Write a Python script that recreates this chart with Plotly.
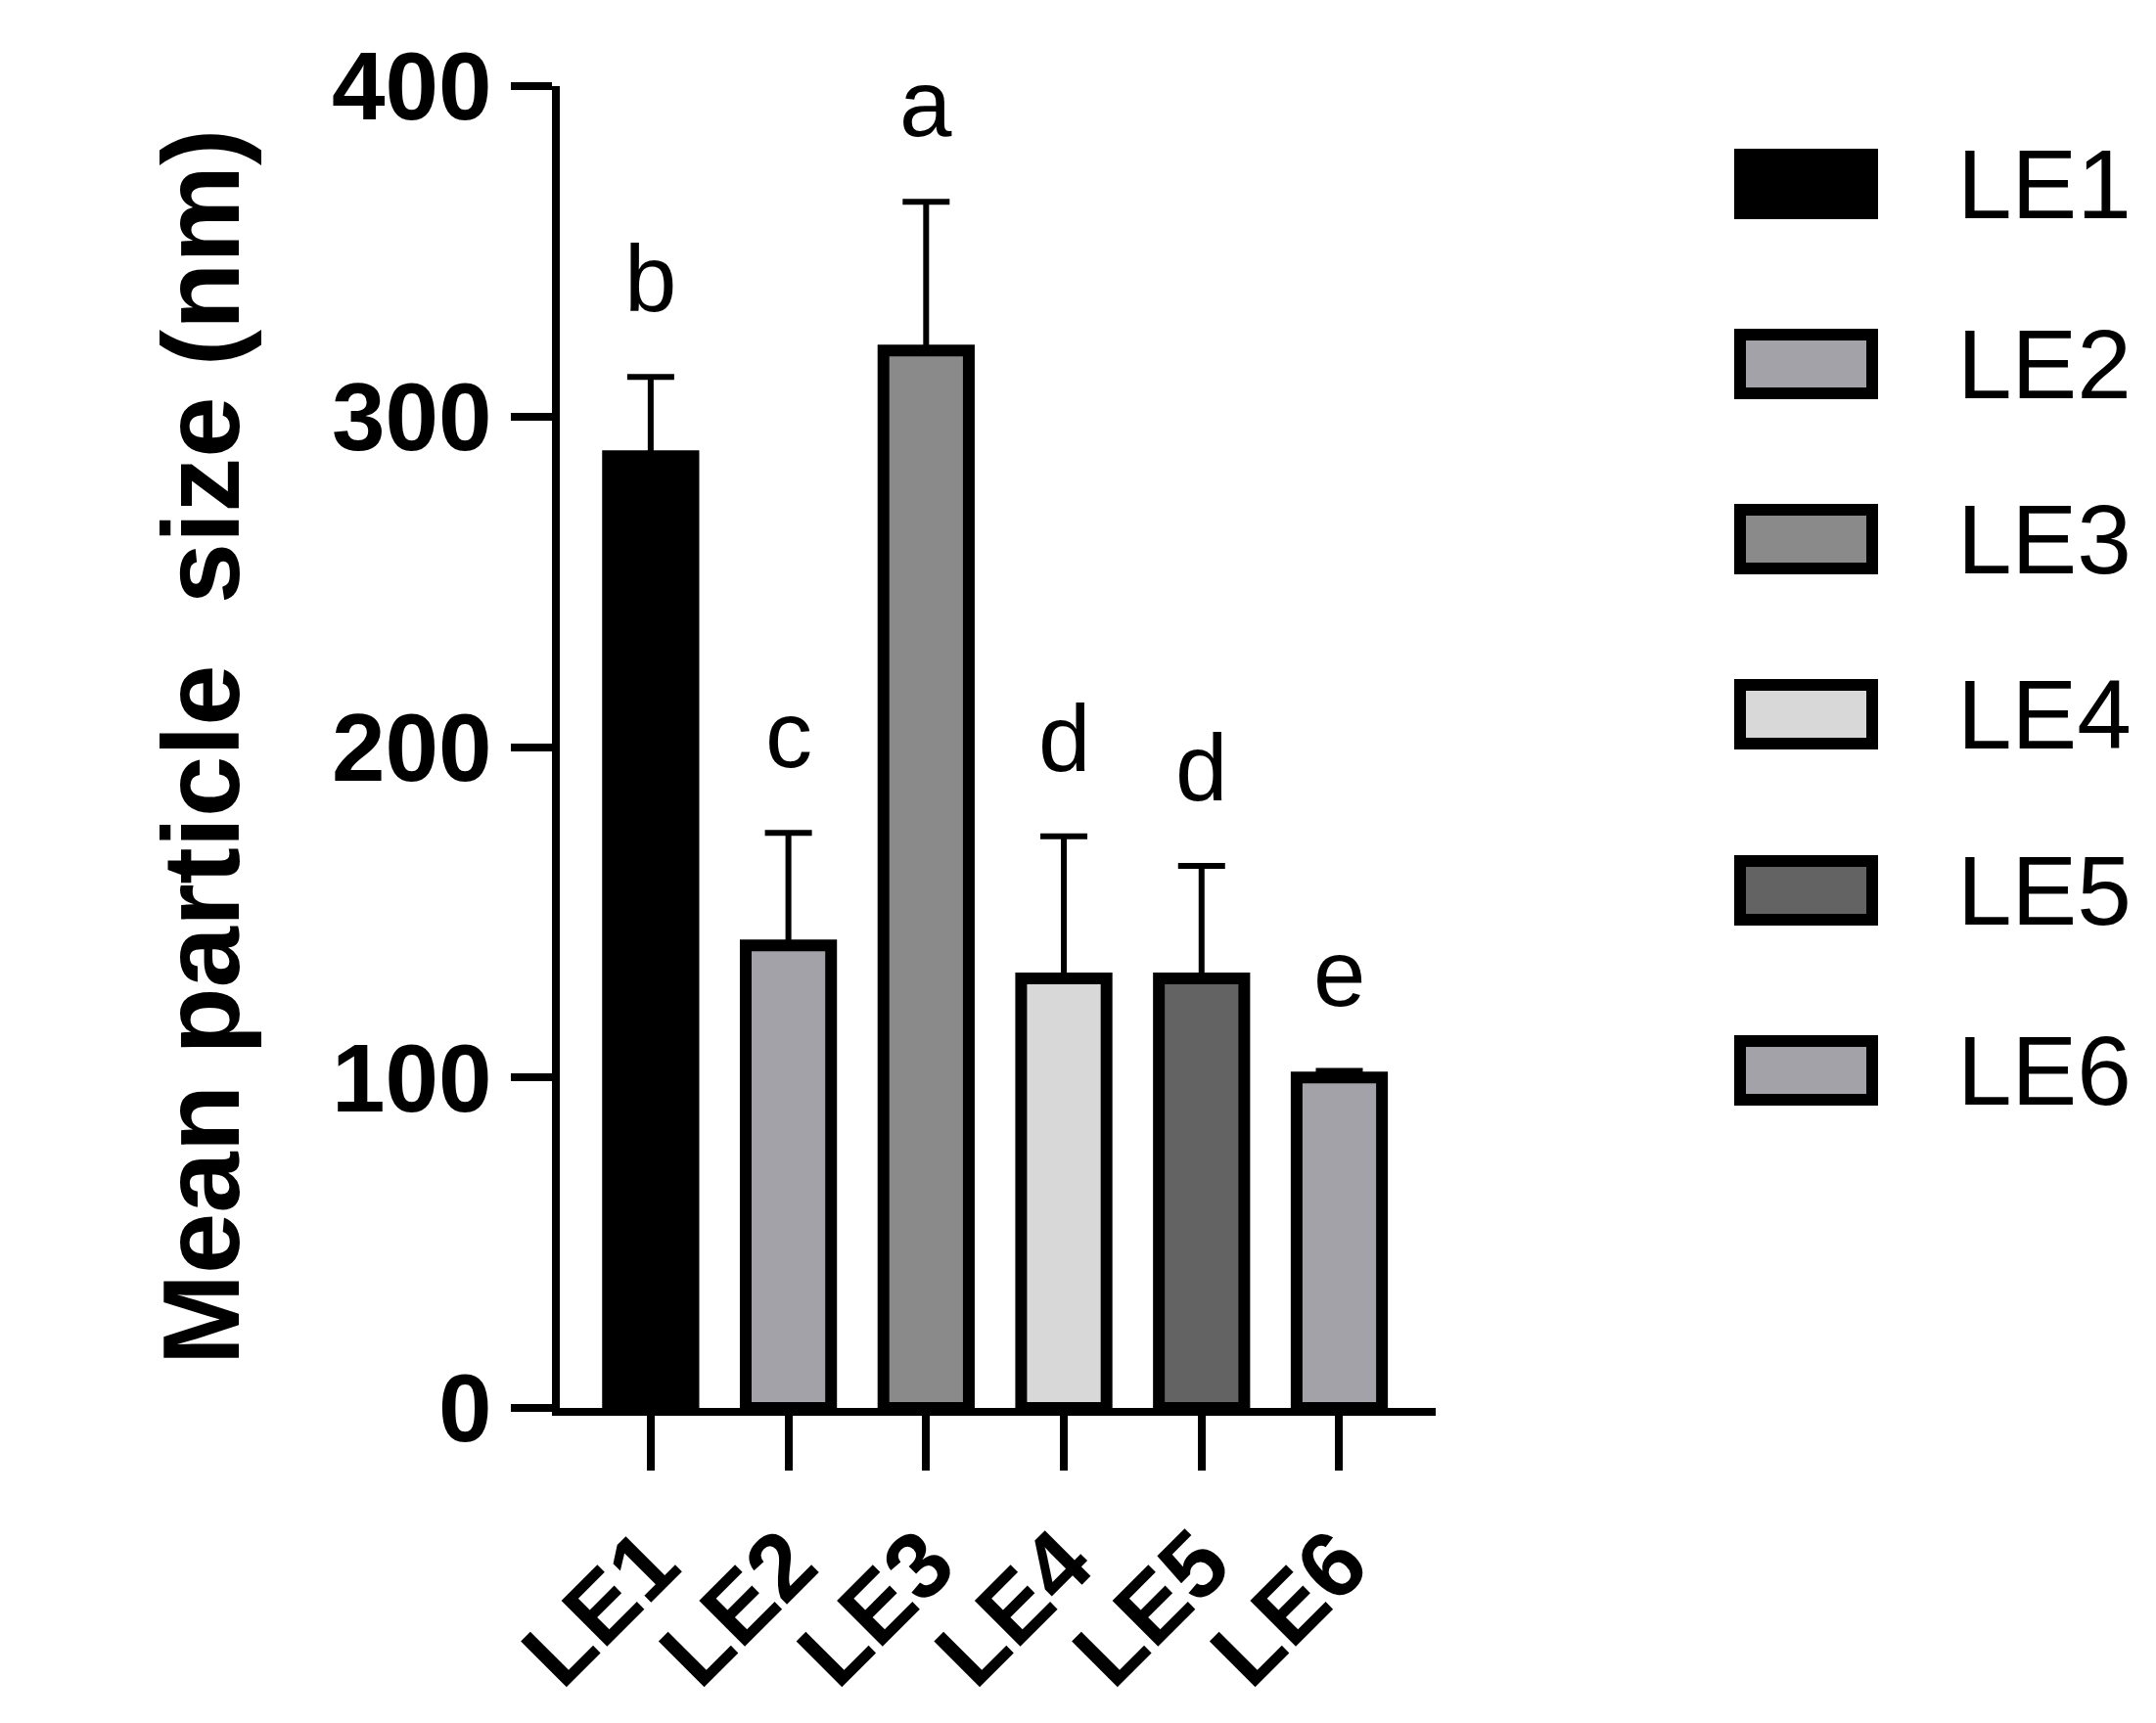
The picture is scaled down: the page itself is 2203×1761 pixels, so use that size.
import plotly.graph_objects as go

categories = ["LE1", "LE2", "LE3", "LE4", "LE5", "LE6"]
means = [288, 140, 320, 130, 130, 100]
errors = [24, 34, 45, 43, 34, 2]
letters = ["b", "c", "a", "d", "d", "e"]
colors = ["#000000", "#a3a2a8", "#8a8a8a", "#d8d8d8", "#636363", "#a3a2a8"]
yticks = [0, 100, 200, 300, 400]

W, H = 2203, 1761
L, R, T, B = 564, 744, 80, 330
FONT = "Liberation Sans, Arial, sans-serif"

fig = go.Figure()
fig.add_trace(go.Bar(
    x=list(range(len(categories))), y=means, width=0.62,
    marker=dict(color=colors, line=dict(color="#000000", width=12)),
    error_y=dict(type="data", array=errors, arrayminus=[0]*6, symmetric=False,
                 color="#000000", thickness=6, width=24),
    showlegend=False))

for i, (m, e, t) in enumerate(zip(means, errors, letters)):
    fig.add_annotation(x=i, y=m + e, text=t, showarrow=False, yshift=45,
                       yanchor="bottom", font=dict(family=FONT, size=96, color="#000"))

def px2paper(xp, yp):
    return (xp - L) / (W - L - R), 1 - (yp - T) / (H - T - B)

centers = [180, 364, 543, 722, 902, 1086]
for c, name, cy in zip(colors, categories, centers):
    x0, y0 = px2paper(1770, cy - 30)
    x1, y1 = px2paper(1905, cy + 30)
    fig.add_shape(type="rect", xref="paper", yref="paper", x0=x0, x1=x1, y0=y1, y1=y0,
                  fillcolor=c, line=dict(color="#000", width=12))
    tx, ty = px2paper(1990, cy)
    fig.add_annotation(xref="paper", yref="paper", x=tx, y=ty, text=name, showarrow=False,
                       xanchor="left", yanchor="middle", font=dict(family=FONT, size=100, color="#000"))

fig.update_layout(
    width=W, height=H, margin=dict(l=L, r=R, t=T, b=B),
    plot_bgcolor="white", paper_bgcolor="white", bargap=0.38,
    font=dict(family=FONT, color="#000"),
    xaxis=dict(range=[-0.66, 5.7], tickmode="array", tickvals=list(range(6)),
               ticktext=["<b>%s</b>" % c for c in categories], tickangle=-45,
               ticks="outside", ticklen=56, tickwidth=8, tickcolor="#000",
               showline=True, linewidth=8, linecolor="#000", showgrid=False,
               tickfont=dict(size=96, family=FONT)),
    yaxis=dict(range=[0, 400], tickvals=yticks, ticktext=["<b>%d</b>" % v for v in yticks],
               ticks="outside", ticklen=42, tickwidth=8, tickcolor="#000",
               showline=True, linewidth=8, linecolor="#000", showgrid=False, zeroline=False,
               tickfont=dict(size=98, family=FONT),
               title=dict(text="<b>Mean particle  size (nm)</b>", font=dict(size=112, family=FONT),
                          standoff=60)),
)
fig.write_html("out.html")
